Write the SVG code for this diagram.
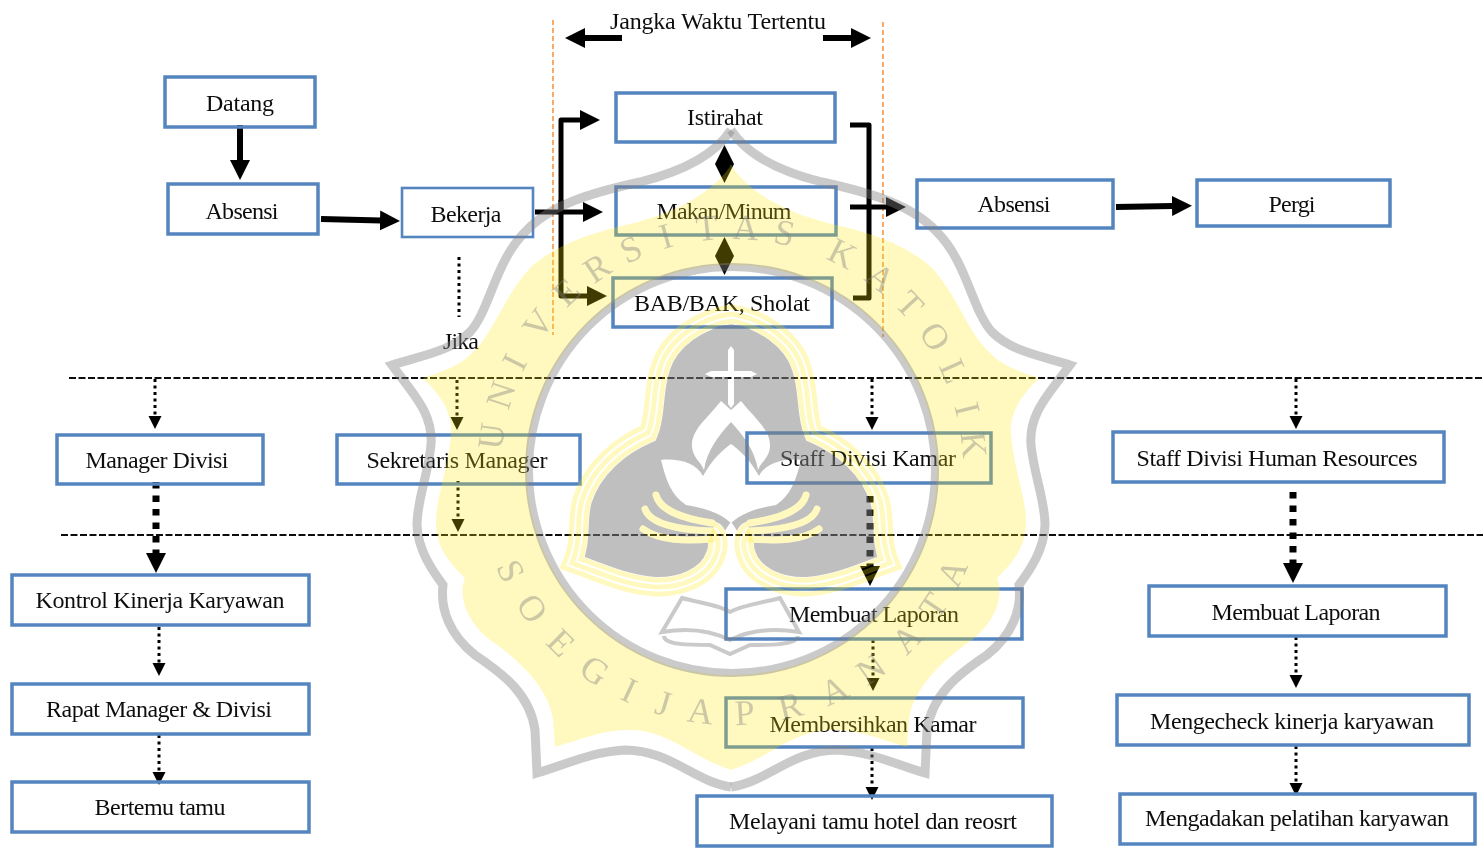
<svg xmlns="http://www.w3.org/2000/svg" xmlns:xlink="http://www.w3.org/1999/xlink" width="1483" height="851" viewBox="0 0 1483 851">
<style>
.b{fill:none;stroke:#5585bf;stroke-width:3.5}
.t{stroke-width:2.6}
text{font-family:"Liberation Serif","Times New Roman",serif;font-size:24px;fill:#111;text-anchor:middle}
.thick{fill:none;stroke:#000;stroke-width:6}
.mid{fill:none;stroke:#000;stroke-width:5;stroke-linejoin:round}
.dot{fill:none;stroke:#000;stroke-width:3;stroke-dasharray:3 3.5;marker-end:url(#a)}
.tdot{fill:none;stroke:#000;stroke-width:7;stroke-dasharray:6.5 7;marker-end:url(#A)}
.sep{fill:none;stroke:#111;stroke-width:2;stroke-dasharray:7 2.5}
.or{fill:none;stroke:#f79646;stroke-width:1.6;stroke-dasharray:5 3}
.wm text{font-size:36px;fill:#808080;fill-opacity:.4}
.gr{fill:none;stroke:#808080;stroke-opacity:.42}
.wing{fill:none;stroke-linecap:round;stroke-width:7}
</style>
<defs>
<filter id="soft" x="0" y="0" width="100%" height="100%"><feGaussianBlur stdDeviation=".45"/></filter>
<marker id="a" markerUnits="userSpaceOnUse" markerWidth="14" markerHeight="14" refX="1" refY="7" orient="auto"><path d="M0 0.5L13 7L0 13.5Z" fill="#000"/></marker>
<marker id="A" markerUnits="userSpaceOnUse" markerWidth="22" markerHeight="22" refX="1" refY="11" orient="auto"><path d="M0 1L20 11L0 21Z" fill="#000"/></marker>
<marker id="m" markerUnits="userSpaceOnUse" markerWidth="22" markerHeight="22" refX="1" refY="11" orient="auto"><path d="M0 1L20 11L0 21Z" fill="#000"/></marker>
<path id="outerL" d="M731 130C715 155 680 172 640 182C590 193 550 205 525 232C495 262 490 310 470 332C450 352 420 356 392 365L407 385C420 402 433 420 431 445C428 475 417 500 417 525C418 550 432 570 443 585C440 610 450 635 475 655C505 675 530 695 535 730L537 773C565 765 590 752 625 750C670 750 695 782 731 787"/>
<path id="yellowL" d="M731 165C715 190 680 212 630 224C590 233 555 245 530 268C505 295 495 330 475 350C460 367 440 372 423 378C440 395 453 412 451 435C448 470 435 500 436 525C437 550 452 565 465 578C458 595 465 620 490 640C520 660 550 690 553 720L555 747C580 740 600 730 630 730C670 730 695 760 732 770L732 165Z"/>
<path id="tre" d="M731 314C700 318 668 340 660 368C652 392 656 415 648 433C620 445 592 468 582 500C576 520 582 540 572 563C600 573 625 585 655 587C680 588 708 578 716 555C720 542 724 530 731 522C738 530 742 542 746 555C754 578 782 588 807 587C837 585 862 573 890 563C880 540 886 520 880 500C870 468 842 445 814 433C806 415 810 392 802 368C794 340 762 318 731 314Z"/>
<path id="treS" d="M712 531C718 533 720 545 716 555C708 578 680 588 655 587C625 585 600 573 572 563C582 540 576 520 582 500C592 468 620 445 648 433C656 415 652 392 660 368C668 340 700 318 731 314C762 318 794 340 802 368C810 392 806 415 814 433C842 445 870 468 880 500C886 520 880 540 890 563C862 573 837 585 807 587C782 588 754 578 746 555C742 545 744 533 750 531"/>
<g id="wings">
<path class="wing" d="M656 495C660 510 680 518 712 523"/><path class="wing" d="M645 509C650 524 680 530 712 531"/><path class="wing" d="M643 529C660 541 685 541 712 539"/>
<path class="wing" d="M806 495C802 510 782 518 750 523"/><path class="wing" d="M817 509C812 524 782 530 750 531"/><path class="wing" d="M819 529C802 541 777 541 750 539"/>
</g>
<mask id="ym" maskUnits="userSpaceOnUse" x="0" y="0" width="1483" height="851"><use xlink:href="#yellowL" fill="#fff"/><use xlink:href="#yellowL" fill="#fff" transform="translate(1462 0) scale(-1 1)"/><circle cx="732" cy="470" r="205" fill="#000"/></mask>
<mask id="sm" maskUnits="userSpaceOnUse" x="0" y="0" width="1483" height="851">
<g fill="none" stroke-linejoin="miter"><use xlink:href="#treS" stroke="#fff" stroke-width="19"/><use xlink:href="#treS" stroke="#000" stroke-width="9"/><use xlink:href="#treS" stroke="#fff" stroke-width="5"/></g>
</mask>
<mask id="gm" maskUnits="userSpaceOnUse" x="0" y="0" width="1483" height="851"><use xlink:href="#tre" fill="#fff"/><use xlink:href="#treS" fill="none" stroke="#000" stroke-width="20"/>
<path d="M728 350L731 346L734 350V371H751L757 374L751 377H734V404L731 408L728 404V377H711L705 374L711 371H728Z" fill="#000"/>
<path d="M731 410L721 401C706 420 691 430 692 447C693 458 701 462 704 470C707 450 719 435 731 422C743 435 755 450 758 470C761 462 769 458 770 447C771 430 756 420 741 401Z" fill="#000"/>
<path d="M661 460C676 458 696 462 703 476C713 458 723 450 731 444C739 450 749 458 759 476C766 462 786 458 801 460C796 480 791 495 776 505C761 508 746 510 731 523C716 510 701 508 686 505C671 495 666 480 661 460Z" fill="#000"/>
<use xlink:href="#wings" stroke="#000"/>
</mask>
</defs>
<rect width="1483" height="851" fill="#fff"/>
<g filter="url(#soft)">
<g id="connectors">
<path class="or" d="M553 20V335"/><path class="or" d="M883 22V337"/>
<path class="thick" d="M622 38H584" marker-end="url(#m)"/>
<path class="thick" d="M823 38H852" marker-end="url(#m)"/>
<path class="thick" d="M240 125V161" marker-end="url(#m)"/>
<path class="thick" d="M321 219L381 220.500" marker-end="url(#m)"/>
<path class="thick" d="M1116 207L1173 206" marker-end="url(#m)"/>
<path class="mid" d="M535 212H584" marker-end="url(#m)"/>
<path class="mid" d="M561 212V120H581" marker-end="url(#m)"/>
<path class="mid" d="M561 200V296H588" marker-end="url(#m)"/>
<path class="mid" d="M850 125H869V298H853"/>
<path class="mid" d="M850 207H887" marker-end="url(#m)"/>
<path d="M724.500 145L734 164L724.500 183L715 164Z" fill="#000"/>
<path d="M724.500 237L734 256L724.500 275L715 256Z" fill="#000"/>
<path d="M459 257V317" fill="none" stroke="#000" stroke-width="3" stroke-dasharray="3 3.5"/>
<path class="sep" d="M69 378H1483"/><path class="sep" d="M61 535H1483"/>
<path class="dot" d="M155 379V417"/><path class="dot" d="M457 380V418"/><path class="dot" d="M872 379V418"/><path class="dot" d="M1296 379V417"/>
<path class="dot" d="M458 481V520"/><path class="dot" d="M159 627V664"/><path class="dot" d="M159 735V773"/>
<path class="dot" d="M873 640V679"/><path class="dot" d="M872 748V788"/><path class="dot" d="M1296 637V676"/><path class="dot" d="M1296 746V784"/>
<path class="tdot" d="M156 482V554"/><path class="tdot" d="M870 496V567"/><path class="tdot" d="M1293 492V564"/>
</g>

<g id="n-datang"><rect class="b" x="165" y="77" width="150" height="50"/><text x="240" y="111" textLength="68">Datang</text></g>
<g id="n-absensi1"><rect class="b" x="168" y="184" width="150" height="50"/><text x="242" y="219" textLength="73">Absensi</text></g>
<g id="n-bekerja"><rect class="b t" x="402" y="188" width="131" height="49"/><text x="466" y="222" textLength="71">Bekerja</text></g>
<g id="n-istirahat"><rect class="b" x="616" y="93" width="219" height="49"/><text x="725" y="125" textLength="76">Istirahat</text></g>
<g id="n-makan"><rect class="b" x="616" y="187" width="220" height="48"/><text x="724" y="219" textLength="135">Makan/Minum</text></g>
<g id="n-bab"><rect class="b" x="613" y="278" width="219" height="49"/><text x="722" y="311" textLength="176">BAB/BAK, Sholat</text></g>
<g id="n-absensi2"><rect class="b" x="917" y="180" width="196" height="48"/><text x="1014" y="212" textLength="73">Absensi</text></g>
<g id="n-pergi"><rect class="b" x="1197" y="180" width="193" height="46"/><text x="1292" y="212" textLength="47">Pergi</text></g>
<g id="n-jangka"><text x="718" y="29" textLength="216">Jangka Waktu Tertentu</text></g>
<g id="n-jika"><text x="461" y="349" textLength="36">Jika</text></g>
<g id="n-manager"><rect class="b" x="57" y="435" width="206" height="49"/><text x="157" y="468" textLength="143">Manager Divisi</text></g>
<g id="n-sekretaris"><rect class="b" x="337" y="435" width="243" height="49"/><text x="457" y="468" textLength="181">Sekretaris Manager</text></g>
<g id="n-staffkamar"><rect class="b" x="747" y="433" width="244" height="50"/><text x="868" y="466" textLength="176">Staff Divisi Kamar</text></g>
<g id="n-staffhr"><rect class="b" x="1113" y="432" width="331" height="50"/><text x="1277" y="466" textLength="281">Staff Divisi Human Resources</text></g>
<g id="n-kontrol"><rect class="b" x="12" y="575" width="297" height="50"/><text x="160" y="608" textLength="249">Kontrol Kinerja Karyawan</text></g>
<g id="n-rapat"><rect class="b" x="12" y="684" width="297" height="50"/><text x="159" y="717" textLength="226">Rapat Manager &amp; Divisi</text></g>
<g id="n-bertemu"><rect class="b" x="12" y="782" width="297" height="50"/><text x="160" y="815" textLength="131">Bertemu tamu</text></g>
<g id="n-laporan1"><rect class="b" x="726" y="589" width="296" height="50"/><text x="874" y="622" textLength="170">Membuat Laporan</text></g>
<g id="n-bersih"><rect class="b" x="726" y="698" width="297" height="49"/><text x="873" y="732" textLength="207">Membersihkan Kamar</text></g>
<g id="n-melayani"><rect class="b" x="697" y="796" width="355" height="50"/><text x="873" y="829" textLength="288">Melayani tamu hotel dan reosrt</text></g>
<g id="n-laporan2"><rect class="b" x="1149" y="586" width="297" height="50"/><text x="1296" y="620" textLength="169">Membuat Laporan</text></g>
<g id="n-check"><rect class="b" x="1117" y="695" width="352" height="50"/><text x="1292" y="729" textLength="284">Mengecheck kinerja karyawan</text></g>
<g id="n-pelatihan"><rect class="b" x="1120" y="794" width="355" height="50"/><text x="1297" y="826" textLength="304">Mengadakan pelatihan karyawan</text></g>

<g id="watermark" class="wm">
<g mask="url(#ym)"><rect width="1483" height="851" fill="#ffe600" fill-opacity=".25"/></g>
<g class="gr" stroke-width="9" stroke-linejoin="miter"><use xlink:href="#outerL"/><use xlink:href="#outerL" transform="translate(1462 0) scale(-1 1)"/></g>
<circle class="gr" cx="732" cy="470" r="203" stroke-width="8"/>
<g mask="url(#sm)"><rect width="1483" height="851" fill="#ffe600" fill-opacity=".25"/></g>
<g mask="url(#gm)"><rect width="1483" height="851" fill="#808080" fill-opacity=".5"/></g>
<use xlink:href="#wings" stroke="#ffe600" stroke-opacity=".25"/>
<path class="gr" stroke-width="4" d="M682 598C700 603 720 605 730 612C742 605 762 603 780 598L799 632C775 628 750 630 730 640C710 630 685 628 662 632ZM664 636C664 645 690 645 710 645L730 654L750 645C770 645 797 645 798 636"/>
<g id="wm-top">
<text x="732" y="239" transform="rotate(-82 732 470)">U</text><text x="732" y="239" transform="rotate(-72 732 470)">N</text><text x="732" y="239" transform="rotate(-63.600 732 470)">I</text><text x="732" y="239" transform="rotate(-53 732 470)">V</text><text x="732" y="239" transform="rotate(-43 732 470)">E</text><text x="732" y="239" transform="rotate(-33.700 732 470)">R</text><text x="732" y="239" transform="rotate(-24.600 732 470)">S</text><text x="732" y="239" transform="rotate(-15.800 732 470)">I</text><text x="732" y="239" transform="rotate(-5.900 732 470)">T</text><text x="732" y="239" transform="rotate(3.200 732 470)">A</text><text x="732" y="239" transform="rotate(12.500 732 470)">S</text><text x="732" y="239" transform="rotate(27 732 470)">K</text><text x="732" y="239" transform="rotate(37.700 732 470)">A</text><text x="732" y="239" transform="rotate(47 732 470)">T</text><text x="732" y="239" transform="rotate(56.700 732 470)">O</text><text x="732" y="239" transform="rotate(66 732 470)">L</text><text x="732" y="239" transform="rotate(75.500 732 470)">I</text><text x="732" y="239" transform="rotate(84 732 470)">K</text>
</g>
<g id="wm-bottom">
<text x="732" y="725" transform="rotate(65.500 732 470)">S</text><text x="732" y="725" transform="rotate(55.300 732 470)">O</text><text x="732" y="725" transform="rotate(44.700 732 470)">E</text><text x="732" y="725" transform="rotate(34.400 732 470)">G</text><text x="732" y="725" transform="rotate(25 732 470)">I</text><text x="732" y="725" transform="rotate(16.400 732 470)">J</text><text x="732" y="725" transform="rotate(7.400 732 470)">A</text><text x="732" y="725" transform="rotate(-3 732 470)">P</text><text x="732" y="725" transform="rotate(-13.900 732 470)">R</text><text x="732" y="725" transform="rotate(-24.900 732 470)">A</text><text x="732" y="725" transform="rotate(-34.900 732 470)">N</text><text x="732" y="725" transform="rotate(-46 732 470)">A</text><text x="732" y="725" transform="rotate(-56 732 470)">T</text><text x="732" y="725" transform="rotate(-65 732 470)">A</text>
</g>
</g>
</g>
</svg>
